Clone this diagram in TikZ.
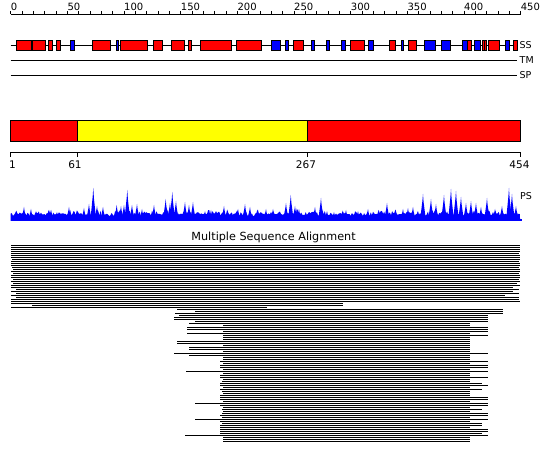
\documentclass[tikz,border=0pt]{standalone}
\usepackage{fontspec}
\setmainfont{DejaVu Sans}
\definecolor{ssred}{RGB}{255,0,0}
\definecolor{ssblue}{RGB}{0,0,255}
\definecolor{domyellow}{RGB}{255,255,0}
\begin{document}
\begin{tikzpicture}[x=1pt,y=-1pt,
  axisline/.style={line width=1pt,black},
  ssbox/.style={draw=black,line width=1pt},
  msarow/.style={line width=1pt,black},
  rulerlbl/.style={inner sep=0pt,font=\fontsize{10}{12}\selectfont},
  sidelbl/.style={inner sep=0pt,anchor=west,font=\fontsize{9.5}{11}\selectfont},
  domlbl/.style={inner sep=0pt,font=\fontsize{10.5}{12}\selectfont}]
\useasboundingbox[fill=white] (0,0) rectangle (550,465);

% ---- top ruler ----
\draw[axisline] (10.7,14.5) -- (520.7,14.5);
\foreach \p in {0,10,...,450}
  \draw[axisline] ({10.7+1.1333*\p},11) -- ({10.7+1.1333*\p},14.5);
\foreach \p in {0,50,...,450}
  \node[rulerlbl,anchor=base west] (r\p) at ({10.7+1.1333*\p},11) {\p};

% ---- SS / TM / SP tracks ----
\draw[axisline] (10.7,45.5) -- (517.3,45.5);
\draw[axisline] (10.7,60.5) -- (517.3,60.5);
\draw[axisline] (10.7,75.5) -- (517.3,75.5);
\foreach \a/\b in {16/31.7,32.3/45.7,48.3/52,56/60.3,92/110,120/147.7,153.3/162.7,
  171.3/184.5,188.3/191.7,200.5/231.7,236.5/261.7,293.3/303.5,350.7/364.2,389.3/395,
  408.7/416.8,467.3/471.5,482/484.2,484.2/486.5,488.7/499,513.5/517.3}
  \filldraw[ssbox,fill=ssred] (\a,40.5) rectangle (\b,50.5);
\foreach \a/\b in {70.3/74.3,116/118.7,271.3/280.3,285.2/288.5,311.2/314.5,326.5/329.8,
  341/345.2,368.3/373.3,401.8/403.8,424.3/435.2,441.3/450.5,462.8/467.3,474.5/480.8,505/509}
  \filldraw[ssbox,fill=ssblue] (\a,40.5) rectangle (\b,50.5);
\node[sidelbl] (lss) at (519.5,45.5) {SS};
\node[sidelbl] (ltm) at (519.5,60.5) {TM};
\node[sidelbl] (lsp) at (519.5,75.5) {SP};

% ---- domain bar ----
\filldraw[ssbox,fill=ssred] (10.5,120.5) rectangle (77.1,141.5);
\filldraw[ssbox,fill=domyellow] (77.1,120.5) rectangle (307.6,141.5);
\filldraw[ssbox,fill=ssred] (307.6,120.5) rectangle (520,141.5);
\draw[axisline] (10.5,152.5) -- (520,152.5);
\foreach \t in {10.5,77.1,307.6,520}
  \draw[axisline] (\t,152.5) -- (\t,157.5);
\node[domlbl] (d1) at (12.5,164.5) {1};
\node[domlbl] (d61) at (75,164.5) {61};
\node[domlbl] (d267) at (306,164.5) {267};
\node[domlbl] (d454) at (519.5,164.5) {454};

% ---- PS profile ----
\pgfmathsetseed{7}
\fill[ssblue] (10.7,221) -- plot[domain=10.7:520,samples=455,variable=\x]
  (\x,{221-4.5-6*rnd*rnd-3*rnd}) -- (520,221) -- cycle;
\fill[ssblue] (10.7,219) rectangle (522,221);
\foreach \c/\h in {24/14,31/12,36/10,49/11,57/9,69/14,77/10,84/13,89/17,93.3/33,97/15,
  103/14,116.7/16,121/15,124/16,127.3/31,132/16,137/17,142/12,154/16,165.7/22,170/18,
  172.3/29,176/20,185/19,189/16,193/19,205/10,211/11,224/15,238/12,245/17,250/14,
  258/11,266/12,273/12,286/18,290.8/26,295/15,299/12,315/14,321/23,327/10,334/9,
  346/11,358/10,368/12,387/18,403/12,408/13,413/14,423/27,431/22,436/17,444/26,
  451/32,456/30,461/24,466/18,471/20,476/18,481/14,487/23,495/12,502/15,509/33,
  512/27,516/15}
  \fill[ssblue] ({\c-3},221) -- ({\c-0.6},{221-0.75*\h}) -- (\c,{221-\h})
     -- ({\c+0.6},{221-0.7*\h}) -- ({\c+3},221) -- cycle;
\node[sidelbl] (lps) at (520,196) {PS};

% ---- multiple sequence alignment ----
\node[inner sep=0pt,anchor=base,font=\fontsize{11.2}{13}\selectfont] (msatitle)
  at (273.6,241) {Multiple Sequence Alignment};
\foreach \y/\l/\r in {245.5/11/520,247.5/11/520,249.5/11/520,251.5/11/520,253.5/11/519,
  255.5/11/520,257.5/11/520,259.5/12/520,261.5/11/519,263.5/11/520,265.5/11/520,
  267.5/12/519,269.5/13/520,271.5/11/520,273.5/13/519,275.5/11/520,277.5/11/520,
  279.5/13/519,281.5/11/520,283.5/13/517,285.5/11/520,287.5/11/513,289.5/16/519,
  291.5/11/513,293.5/16/519,295.5/11/505,297.5/16/519,299.5/11/519,301.5/11/520,
  303.5/11/343,305.5/32/343,307.5/11/267}
  \draw[msarow] (\l,\y) -- (\r,\y);
\foreach \y/\l/\r in {309.5/177/503,311.5/195/503,313.5/175/503,315.5/179/488,
  317.5/174/488,319.5/174/488,321.5/195/488,323.5/189/470,325.5/223/470,327.5/187/488,
  329.5/187/488,331.5/223/488,333.5/187/470,335.5/223/488,337.5/223/470,339.5/223/470,
  341.5/177/470,343.5/177/470,345.5/223/470,347.5/189/470,349.5/189/470,351.5/223/470,
  353.5/174/488,355.5/189/470,357.5/223/470,359.5/223/470,361.5/220/488,363.5/223/470,
  365.5/220/488,367.5/220/488,369.5/223/470,371.5/186/488,373.5/223/470,375.5/220/470,
  377.5/220/488,379.5/223/470,381.5/222/470,383.5/220/482,385.5/220/488,387.5/223/470,
  389.5/220/482,391.5/222/470,393.5/223/470,395.5/220/470,397.5/220/488,399.5/220/488,
  401.5/223/470,403.5/195/488,405.5/220/488,407.5/223/470,409.5/222/482,411.5/223/470,
  413.5/222/488,415.5/220/488,417.5/222/470,419.5/195/488,421.5/220/470,423.5/222/482,
  425.5/220/482,427.5/220/470,429.5/220/488,431.5/220/488,433.5/220/482,435.5/185/488,
  437.5/223/470,439.5/223/470,441.5/223/470}
  \draw[msarow] (\l,\y) -- (\r,\y);
\end{tikzpicture}
\end{document}
